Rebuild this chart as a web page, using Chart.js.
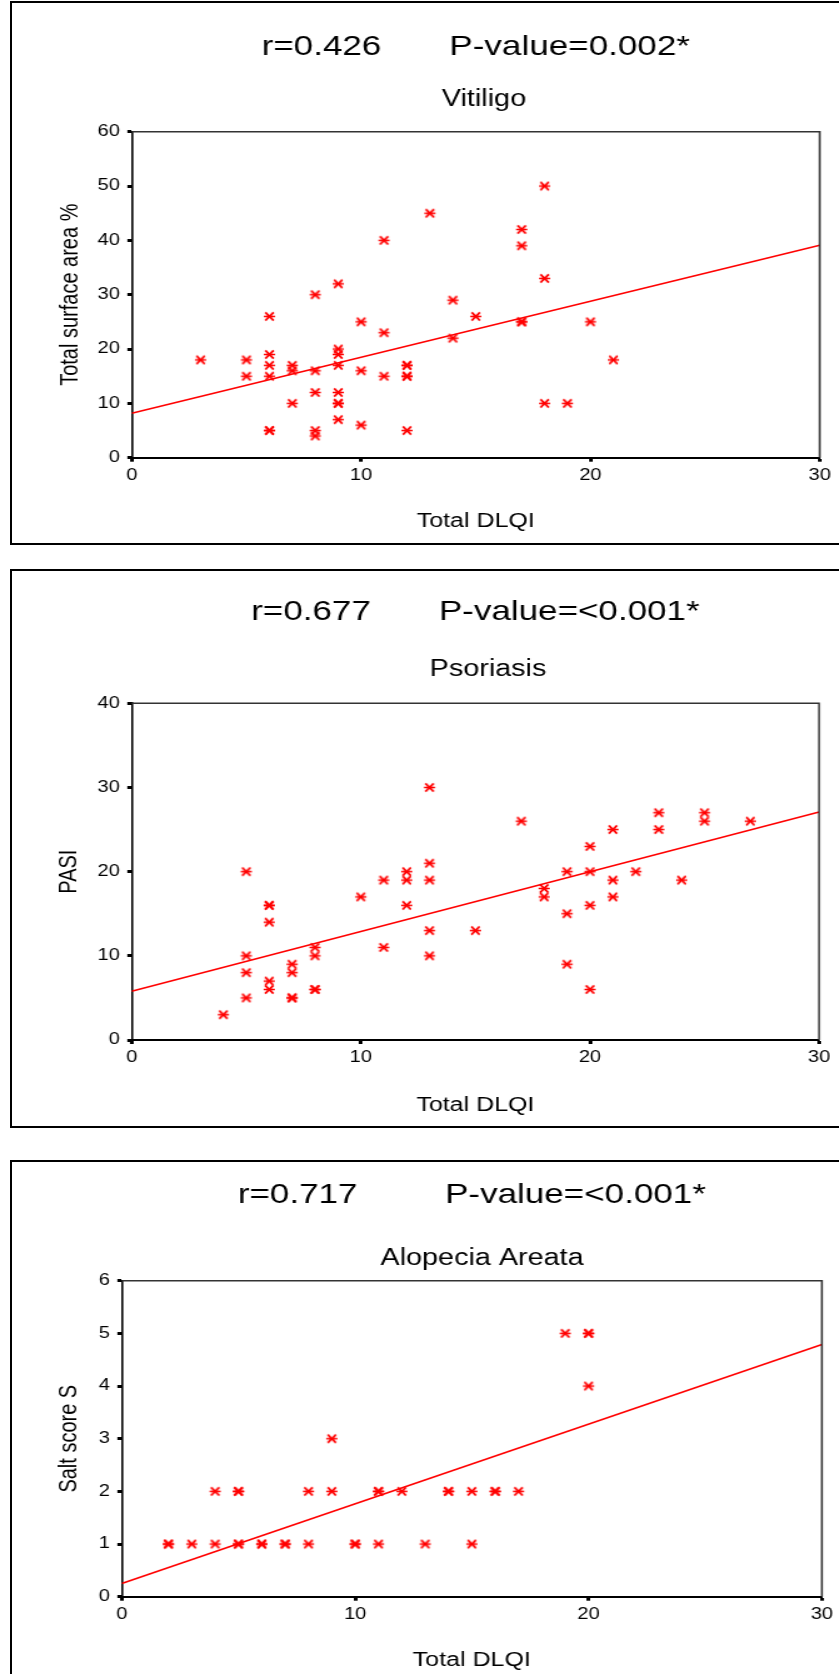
<!DOCTYPE html>
<html lang="en">
<head>
  <meta charset="UTF-8" />
  <title>DLQI correlations</title>
  <style>
    html, body {
      margin: 0;
      padding: 0;
      background: #fff;
    }

    body {
      width: 839px;
      height: 1674px;
      position: relative;
      overflow: hidden;
    }

    .box {
      position: absolute;
      border: 2px solid #000;
      box-sizing: border-box;
    }

    canvas {
      position: absolute;
      left: 0;
    }
  </style>
  <script src="https://cdn.jsdelivr.net/npm/chart.js"></script>
</head>
<body>

  <div class="box" style="left:10px; top:1px; width:900px; height:544px;"></div>
  <div class="box" style="left:10px; top:569px; width:900px; height:559px;"></div>
  <div class="box" style="left:10px; top:1160px; width:900px; height:600px;"></div>

  <!-- the original figure is stretched sideways, so each canvas is drawn narrow and widened by CSS -->
  <canvas id="vitiligo" width="774" height="545" style="top:0px; width:967.5px; height:545px;"></canvas>
  <canvas id="psoriasis" width="781" height="570" style="top:560px; width:976.25px; height:570px;"></canvas>
  <canvas id="alopecia" width="771" height="524" style="top:1150px; width:963.75px; height:524px;"></canvas>

  <script>
    // Vitiligo: Total DLQI vs total surface area %
    const vitiligoDlqi = [3, 5, 5, 6, 6, 6, 6, 6, 6, 7, 7, 7, 8, 8, 8, 8, 8, 9, 9, 9, 9, 9, 9, 9, 9,
      10, 10, 10, 11, 11, 11, 12, 12, 12, 12, 12, 13, 14, 14, 15, 17, 17, 17, 17, 18, 18, 18, 19, 20, 21];
    const vitiligoArea = [18, 18, 15, 26, 19, 17, 15, 5, 5, 17, 16, 10, 30, 16, 12, 5, 4, 32, 20, 19, 17, 12, 10, 10, 7,
      25, 16, 6, 40, 23, 15, 17, 17, 15, 15, 5, 45, 29, 22, 26, 42, 39, 25, 25, 50, 33, 10, 10, 25, 18];
    const vitiligoFit = [8.2, 39.1];   // fit line at DLQI 0 and 30

    // Psoriasis: Total DLQI vs PASI
    const psoriasisDlqi = [4, 5, 5, 5, 5, 6, 6, 6, 6, 6, 7, 7, 7, 7, 8, 8, 8, 8, 10, 11, 11, 12, 12, 12, 13,
      13, 13, 13, 13, 15, 17, 18, 18, 19, 19, 19, 20, 20, 20, 20, 21, 21, 21, 22, 23, 23, 24, 25, 25, 27];
    const psoriasisPasi = [3, 20, 10, 8, 5, 16, 16, 14, 7, 6, 9, 8, 5, 5, 11, 10, 6, 6, 17, 19, 11, 20, 19, 16, 30,
      21, 19, 13, 10, 13, 26, 18, 17, 20, 15, 9, 23, 20, 16, 6, 25, 19, 17, 20, 27, 25, 19, 27, 26, 26];
    const psoriasisFit = [5.8, 27.1];

    // Alopecia areata: Total DLQI vs Salt score S
    const alopeciaDlqi = [2, 2, 3, 4, 4, 5, 5, 5, 5, 6, 6, 7, 7, 8, 8, 9, 9, 10, 10, 11, 11, 11, 12, 13, 14,
      14, 15, 15, 16, 16, 17, 19, 20, 20, 20];
    const alopeciaSalt = [1, 1, 1, 1, 2, 1, 1, 2, 2, 1, 1, 1, 1, 1, 2, 3, 2, 1, 1, 1, 2, 2, 2, 1, 2,
      2, 2, 1, 2, 2, 2, 5, 5, 5, 4];
    const alopeciaFit = [0.25, 4.79];

    const fitX = [0, 30];
    const xTicks = [0, 10, 20, 30];

    const S = 1.25;   // horizontal stretch of the canvases
    const TITLE = 28, SUB = 23, AXIS = 20, TICK = 16;

    Chart.defaults.font.family = 'Arial, "Liberation Sans", sans-serif';
    Chart.defaults.color = '#000';

    // SPSS style asterisk marker
    function asterisco() {
      const c = document.createElement('canvas');
      c.width = 11;
      c.height = 11;
      const g = c.getContext('2d');
      g.strokeStyle = '#ff0000';
      g.lineWidth = 1.7;
      g.beginPath();
      g.moveTo(1, 5.5); g.lineTo(10, 5.5);
      g.moveTo(2.2, 1.4); g.lineTo(8.8, 9.6);
      g.moveTo(2.2, 9.6); g.lineTo(8.8, 1.4);
      g.stroke();
      return c;
    }
    const marker = asterisco();

    // top and right edges of the plot frame
    const frame = {
      id: 'frame',
      afterDraw(chart) {
        const { ctx, chartArea: a } = chart;
        ctx.save();
        ctx.strokeStyle = '#333';
        ctx.lineWidth = 1.6;
        ctx.beginPath();
        ctx.moveTo(a.left, a.top);
        ctx.lineTo(a.right, a.top);
        ctx.lineTo(a.right, a.bottom);
        ctx.stroke();
        ctx.restore();
      }
    };

    function painel(id, lay, xs, ys, fit, titulo, sub, yTitulo, yMax, yStep) {
      const canvas = document.getElementById(id);
      const W = canvas.width, H = canvas.height, T = lay.top;
      const tl = TITLE * 1.2, sl = SUB * 1.2, al = AXIS * 1.2;
      const tPadTop = lay.titleY - T - tl / 2;
      const subBoxTop = tPadTop + tl;
      const sPadTop = lay.subY - T - subBoxTop - sl / 2;
      const sPadBottom = lay.plotTop - T - (subBoxTop + sPadTop + sl);

      const pontos = xs.map((x, i) => ({ x: x, y: ys[i] }));
      const linha = fitX.map((x, i) => ({ x: x, y: fit[i] }));

      return new Chart(canvas.getContext('2d'), {
        type: 'scatter',
        data: {
          datasets: [
            {
              data: linha,
              showLine: true,
              borderColor: '#ff0000',
              borderWidth: 1.6,
              pointRadius: 0,
              fill: false
            },
            {
              data: pontos,
              pointStyle: marker,
              pointRadius: 5,
              backgroundColor: '#ff0000',
              borderColor: '#ff0000'
            }
          ]
        },
        options: {
          responsive: false,
          animation: false,
          layout: { padding: 0 },
          plugins: {
            legend: { display: false },
            tooltip: { enabled: false },
            title: {
              display: true,
              fullSize: false,
              text: titulo,
              color: '#000',
              font: { size: TITLE, weight: 'normal' },
              padding: { top: tPadTop, bottom: 0 }
            },
            subtitle: {
              display: true,
              text: sub,
              color: '#000',
              font: { size: SUB, weight: 'normal' },
              padding: { top: sPadTop, bottom: sPadBottom }
            }
          },
          scales: {
            x: {
              type: 'linear',
              min: 0,
              max: 30,
              afterBuildTicks: s => { s.ticks = xTicks.map(v => ({ value: v })); },
              ticks: { color: '#000', font: { size: TICK }, padding: 4 },
              border: { color: '#000', width: 2 },
              grid: { drawOnChartArea: false, tickLength: 4, tickWidth: 3, tickColor: '#000' },
              title: {
                display: true,
                text: 'Total DLQI',
                color: '#000',
                font: { size: AXIS },
                padding: { top: 0, bottom: (T + H - lay.xTitleY) - al / 2 }
              },
              afterFit: s => { s.height = T + H - lay.plotBottom; }
            },
            y: {
              type: 'linear',
              min: 0,
              max: yMax,
              ticks: { stepSize: yStep, color: '#000', font: { size: TICK }, padding: 6 },
              border: { color: '#000', width: 1.6 },
              grid: { drawOnChartArea: false, tickLength: 3.5, tickWidth: 3, tickColor: '#000' },
              title: {
                display: true,
                text: yTitulo,
                color: '#000',
                font: { size: AXIS },
                padding: { top: lay.yTitleX / S - al / 2, bottom: 0 }
              },
              afterFit: s => { s.width = lay.plotLeft / S; }
            },
            // empty right axis that only holds the space right of the plot
            yr: {
              type: 'linear',
              position: 'right',
              display: true,
              ticks: { display: false },
              grid: { display: false },
              border: { display: false },
              afterFit: s => { s.width = W - lay.plotRight / S; }
            }
          }
        },
        plugins: [frame]
      });
    }

    painel('vitiligo',
      { top: 0, plotLeft: 131.7, plotRight: 819.3, plotTop: 131.7, plotBottom: 457.7,
        titleY: 47, subY: 99.5, xTitleY: 521, yTitleX: 70.3 },
      vitiligoDlqi, vitiligoArea, vitiligoFit,
      'r=0.426       P-value=0.002*', 'Vitiligo', 'Total surface area %', 60, 10);

    painel('psoriasis',
      { top: 560, plotLeft: 131.7, plotRight: 819.3, plotTop: 703.3, plotBottom: 1040,
        titleY: 612, subY: 669.5, xTitleY: 1105, yTitleX: 69 },
      psoriasisDlqi, psoriasisPasi, psoriasisFit,
      'r=0.677       P-value=<0.001*', 'Psoriasis', 'PASI', 40, 10);

    painel('alopecia',
      { top: 1150, plotLeft: 121.7, plotRight: 821.7, plotTop: 1280.7, plotBottom: 1596.7,
        titleY: 1195, subY: 1258.5, xTitleY: 1660, yTitleX: 69 },
      alopeciaDlqi, alopeciaSalt, alopeciaFit,
      'r=0.717         P-value=<0.001*', 'Alopecia Areata', 'Salt score S', 6, 1);
  </script>

</body>
</html>
